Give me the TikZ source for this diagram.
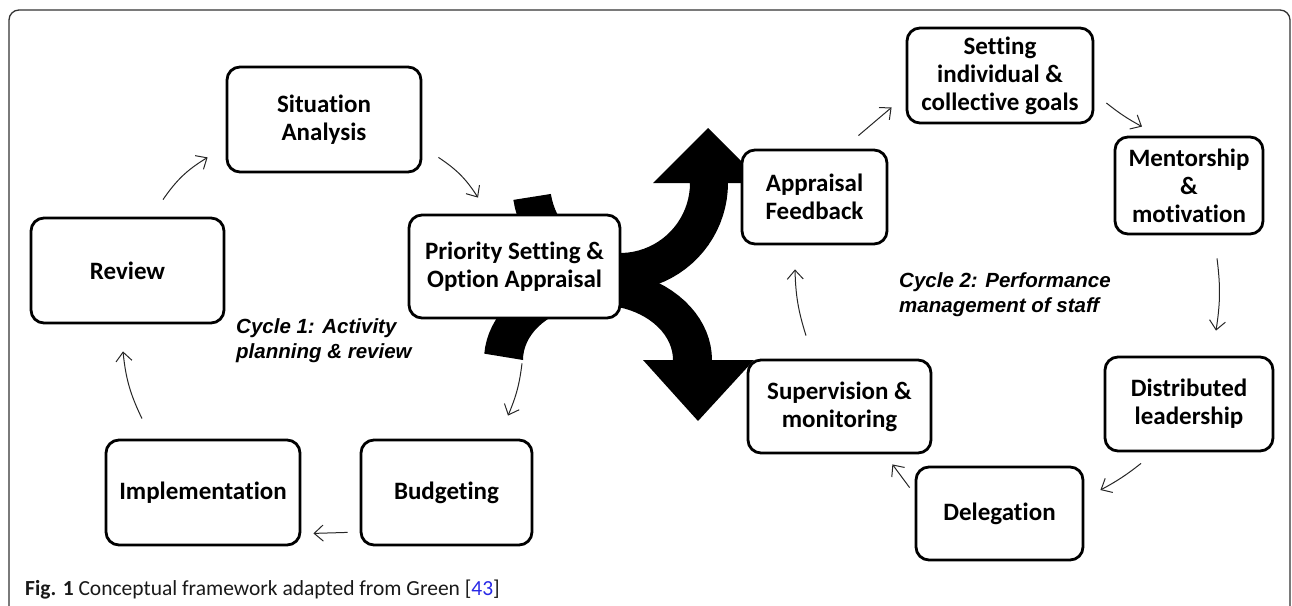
\documentclass[tikz,border=0pt]{standalone}
\usepackage{fontspec}
\setmainfont{Carlito}[Ligatures=NoCommon]
\newfontfamily\cyclefont{Liberation Sans}
\usetikzlibrary{calc, arrows.meta}

\definecolor{refblue}{RGB}{40,40,230}

\tikzset{
  box/.style={draw, line width=2.8pt, rounded corners=13pt, fill=white,
    align=center, inner sep=0pt, font=\bfseries\fontsize{25}{28}\selectfont},
  flow/.style={draw=black!85, line width=1pt, -{Straight Barb[length=9pt,width=16pt]}},
  cycletext/.style={anchor=north west, inner sep=0pt, align=left,
    font=\cyclefont\bfseries\itshape\fontsize{20.5}{25}\selectfont},
}

\begin{document}
\begin{tikzpicture}[x=1pt, y=-1pt]
  \useasboundingbox (0,0) rectangle (1292,605);

  % frame, open at the bottom
  \draw[line width=1.3pt, black!80, rounded corners=10pt]
    (9,615) -- (9,10) -- (1290,10) -- (1290,615);

  % split arrow behind the priority box: up branch
  \fill plot[domain=171:0, samples=40] ({620+108*cos(\x)}, {183+108*sin(\x)})
    -- (763,183) -- (708,128) -- (653,183) -- (690,183)
    -- plot[domain=0:171, samples=40] ({620+70*cos(\x)}, {183+70*sin(\x)}) -- cycle;
  % down branch
  \fill plot[domain=184:360, samples=40] ({598+114*cos(\x)}, {360+91*sin(\x)})
    -- (754,360) -- (698,421) -- (643,360) -- (673,360)
    -- plot[domain=360:180, samples=40] ({598+75*cos(\x)}, {360+55*sin(\x)}) -- cycle;

  % cycle 1
  \node[box, minimum width=194pt, minimum height=105pt] (sit) at (324,119.5) {Situation\\Analysis};
  \node[box, minimum width=211pt, minimum height=103pt] (prio) at (514.5,266.5) {Priority Setting \&\\Option Appraisal};
  \node[box, minimum width=171pt, minimum height=105pt] (bud) at (446.5,492.5) {Budgeting};
  \node[box, minimum width=194pt, minimum height=105pt] (impl) at (203,492.5) {Implementation};
  \node[box, minimum width=193pt, minimum height=105pt] (rev) at (127.5,270.5) {Review};

  % cycle 2
  \node[box, minimum width=145pt, minimum height=94pt] (app) at (814.5,197) {Appraisal\\Feedback};
  \node[box, minimum width=186pt, minimum height=95pt] (set) at (1000,75.5) {Setting\\individual \&\\collective goals};
  \node[box, minimum width=148pt, minimum height=97pt] (men) at (1189,185.5) {Mentorship\\\&\\motivation};
  \node[box, minimum width=168pt, minimum height=94pt] (dist) at (1189,404) {Distributed\\leadership};
  \node[box, minimum width=167pt, minimum height=93pt] (del) at (999.5,513.5) {Delegation};
  \node[box, minimum width=183pt, minimum height=93pt] (sup) at (839.5,406.5) {Supervision \&\\monitoring};

  \node[cycletext] (cyc1) at (236,318) {Cycle 1: Activity\\planning \& review};
  \node[cycletext] (cyc2) at (899,272) {Cycle 2: Performance\\management of staff};

  % cycle 1 links
  \draw[flow] ($(rev.north)+(35.5,-17)$) to[bend left=12] ($(sit.south west)+(-18,-16)$);
  \draw[flow] ($(sit.south east)+(16,-16)$) to[bend left=12] ($(prio.north)+(-36.5,-16)$);
  \draw[flow] ($(prio.south)+(7.5,44)$) to[bend left=8] ($(bud.north)+(61.5,-23)$);
  \draw[flow] ($(bud.south west)+(-12,-14)$) -- ($(impl.south east)+(12,-13)$);
  \draw[flow] ($(impl.north)+(-61,-20)$) to[bend left=10] ($(rev.south)+(-4.5,27)$);

  % cycle 2 links
  \draw[flow] ($(app.north east)+(-30,-13)$) -- ($(set.south west)+(-14,-17)$);
  \draw[flow] ($(set.east)+(12,27.5)$) to[bend right=5] ($(men.north)+(-47,-9)$);
  \draw[flow] ($(men.south)+(28,23)$) to[bend left=8] ($(dist.north)+(27,-25)$);
  \draw[flow] ($(dist.south)+(-48,11)$) to[bend left=5] ($(del.east)+(16,-23.5)$);
  \draw[flow] ($(del.north west)+(-5,22)$) -- ($(sup.south east)+(-40,10)$);
  \draw[flow] ($(sup.north)+(-33.5,-23)$) to[bend left=8] ($(app.south)+(-19.5,24)$);

  \node[anchor=base west, inner sep=0pt, font=\fontsize{21.5}{26}\selectfont, text=black!90] (cap)
    at (25,595) {\textbf{Fig. 1} Conceptual framework adapted from Green [\textcolor{refblue}{43}]};
\end{tikzpicture}
\end{document}
